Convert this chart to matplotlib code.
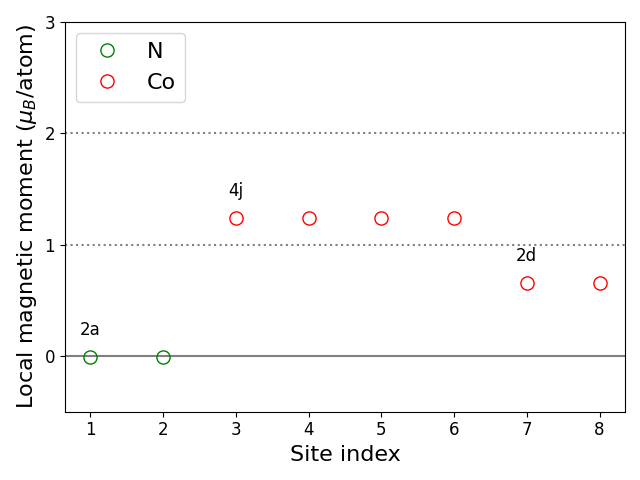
import numpy as np
import matplotlib
matplotlib.use("Agg")
import matplotlib.pyplot as plt

n_sites = [1, 2]
n_moments = [-0.01, -0.01]
co_sites = [3, 4, 5, 6, 7, 8]
co_moments = [1.24, 1.24, 1.24, 1.24, 0.655, 0.655]

labels = ["2a", "4j", "2d"]
label_x = [1, 3, 7]
label_y = [-0.01, 1.24, 0.655]

fig, ax = plt.subplots(figsize=(6.4, 4.8), dpi=100)

ax.axhline(0, color='gray', lw=1.5)
ax.axhline(1, color='gray', ls=':', lw=1.5)
ax.axhline(2, color='gray', ls=':', lw=1.5)

ax.plot(n_sites, n_moments, 'o', mfc='none', mec='green', ms=9.5, label='N')
ax.plot(co_sites, co_moments, 'o', mfc='none', mec='red', ms=9.5, label='Co')

for lab, x, y in zip(labels, label_x, label_y):
    ax.text(x, y + 0.16, lab, ha='center', va='bottom', fontsize=12)

ax.set_ylim(-0.5, 3)
ax.set_yticks([0, 1, 2, 3])
ax.set_xticks(range(1, 9))
ax.tick_params(labelsize=12)
ax.set_xlabel('Site index', fontsize=16)
ax.set_ylabel(r'Local magnetic moment ($\mu_B$/atom)', fontsize=16)
ax.legend(fontsize=16, loc='upper left')

fig.tight_layout()
fig.savefig('out.png')
